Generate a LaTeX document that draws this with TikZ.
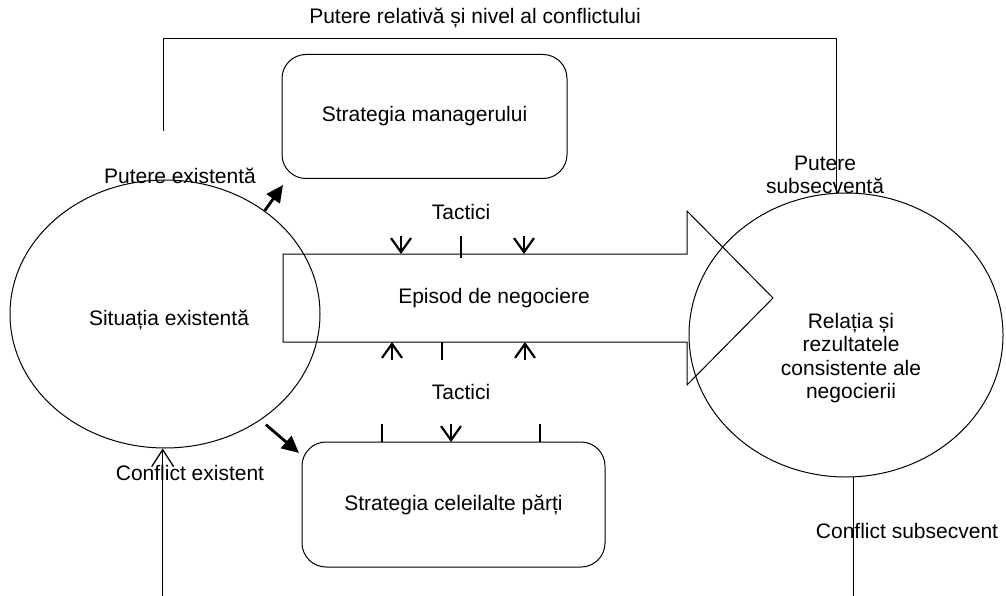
\documentclass[tikz,border=0pt]{standalone}
\usepackage{fontspec}
\setmainfont{Liberation Sans}
\usetikzlibrary{arrows.meta,shapes.geometric}
\begin{document}
\begin{tikzpicture}[x=1pt,y=-1pt,
  lbl/.style={font=\fontsize{21}{23.5}\selectfont, inner sep=0pt, align=center},
  conn/.style={line width=1pt},
  rbox/.style={draw, line width=1pt, rounded corners=24pt, inner sep=0pt, font=\fontsize{21}{23.5}\selectfont},
  oval/.style={draw, ellipse, line width=1pt, inner sep=0pt},
  fat/.style={line width=2.8pt, -{Triangle[length=17pt,width=16pt]}},
  barb/.style={line width=2.2pt, -{Straight Barb[length=14pt,width=20pt]}},
  tickmark/.style={line width=2.2pt},
  openarr/.style={line width=1.3pt, -{Straight Barb[length=17pt,width=22pt]}}
]
\useasboundingbox (0,0) rectangle (1006,596);

% ellipses
\node[oval, minimum width=310pt, minimum height=268pt] (sit) at (165,314) {};
\node[oval, minimum width=314pt, minimum height=284pt] (rel) at (846,335) {};

% boxes
\node[rbox, minimum width=285pt, minimum height=124pt] (mgr) at (424.5,116.5) {Strategia managerului};
\node[rbox, minimum width=303pt, minimum height=125pt] (oth) at (453.5,504.5) {Strategia celeilalte părți};

% big arrow
\coordinate (ea) at (283,254);
\coordinate (eb) at (687,254);
\coordinate (ec) at (687,211);
\coordinate (tip) at (773,298);
\coordinate (ed) at (687,385);
\coordinate (ee) at (687,342);
\coordinate (ef) at (283,342);
\draw[conn] (ea) -- (eb) -- (ec) -- (tip) -- (ed) -- (ee) -- (ef) -- cycle;

% labels
\node[lbl] (title) at (475,18) {Putere relativă și nivel al conflictului};
\node[lbl] (pex) at (180,176) {Putere existentă};
\node[lbl] (tac1) at (461,212) {Tactici};
\node[lbl] (ep) at (494,298) {Episod de negociere};
\node[lbl] (sitl) at (169,320) {Situația existentă};
\node[lbl] (tac2) at (461,392) {Tactici};
\node[lbl] (rell) at (851,358) {Relația și\\rezultatele\\consistente ale\\negocierii};
\node[lbl] (psub) at (825,175) {Putere\\subsecventă};
\node[lbl] (cex) at (190,473) {Conflict existent};
\node[lbl] (csub) at (907,531) {Conflict subsecvent};

% top connector
\coordinate (tl) at (163,131);
\coordinate (tc) at (163,39);
\draw[conn] (tl) -- (tc) -| (rel.94);

% bottom right connector
\coordinate (bb) at (0,596);
\draw[conn] (rel.-87) -- (rel.-87 |- bb);

% conflict existent arrow
\draw[openarr] (sit.-91 |- bb) -- (sit.-91);

% fat arrows
\coordinate (pe) at (283,185);
\coordinate (po) at (299,453);
\draw[fat] (sit.46) -- (pe);
\draw[fat, shorten <=7pt] (sit.-48) -- (po);

% tactic marks on top of the big arrow
\draw[barb] (401,236) -- (401,254);
\draw[tickmark] (461,236) -- (461,258);
\draw[barb] (524,236) -- (524,254);

% tactic marks under the big arrow
\draw[barb] (392,360) -- (392,342);
\draw[tickmark] (442,342) -- (442,360);
\draw[barb] (525,360) -- (525,342);

% tactic marks on the lower box
\draw[tickmark] (382,424) -- (382,442);
\draw[barb] (451,424) -- (451,442);
\draw[tickmark] (540,424) -- (540,442);
\end{tikzpicture}
\end{document}
